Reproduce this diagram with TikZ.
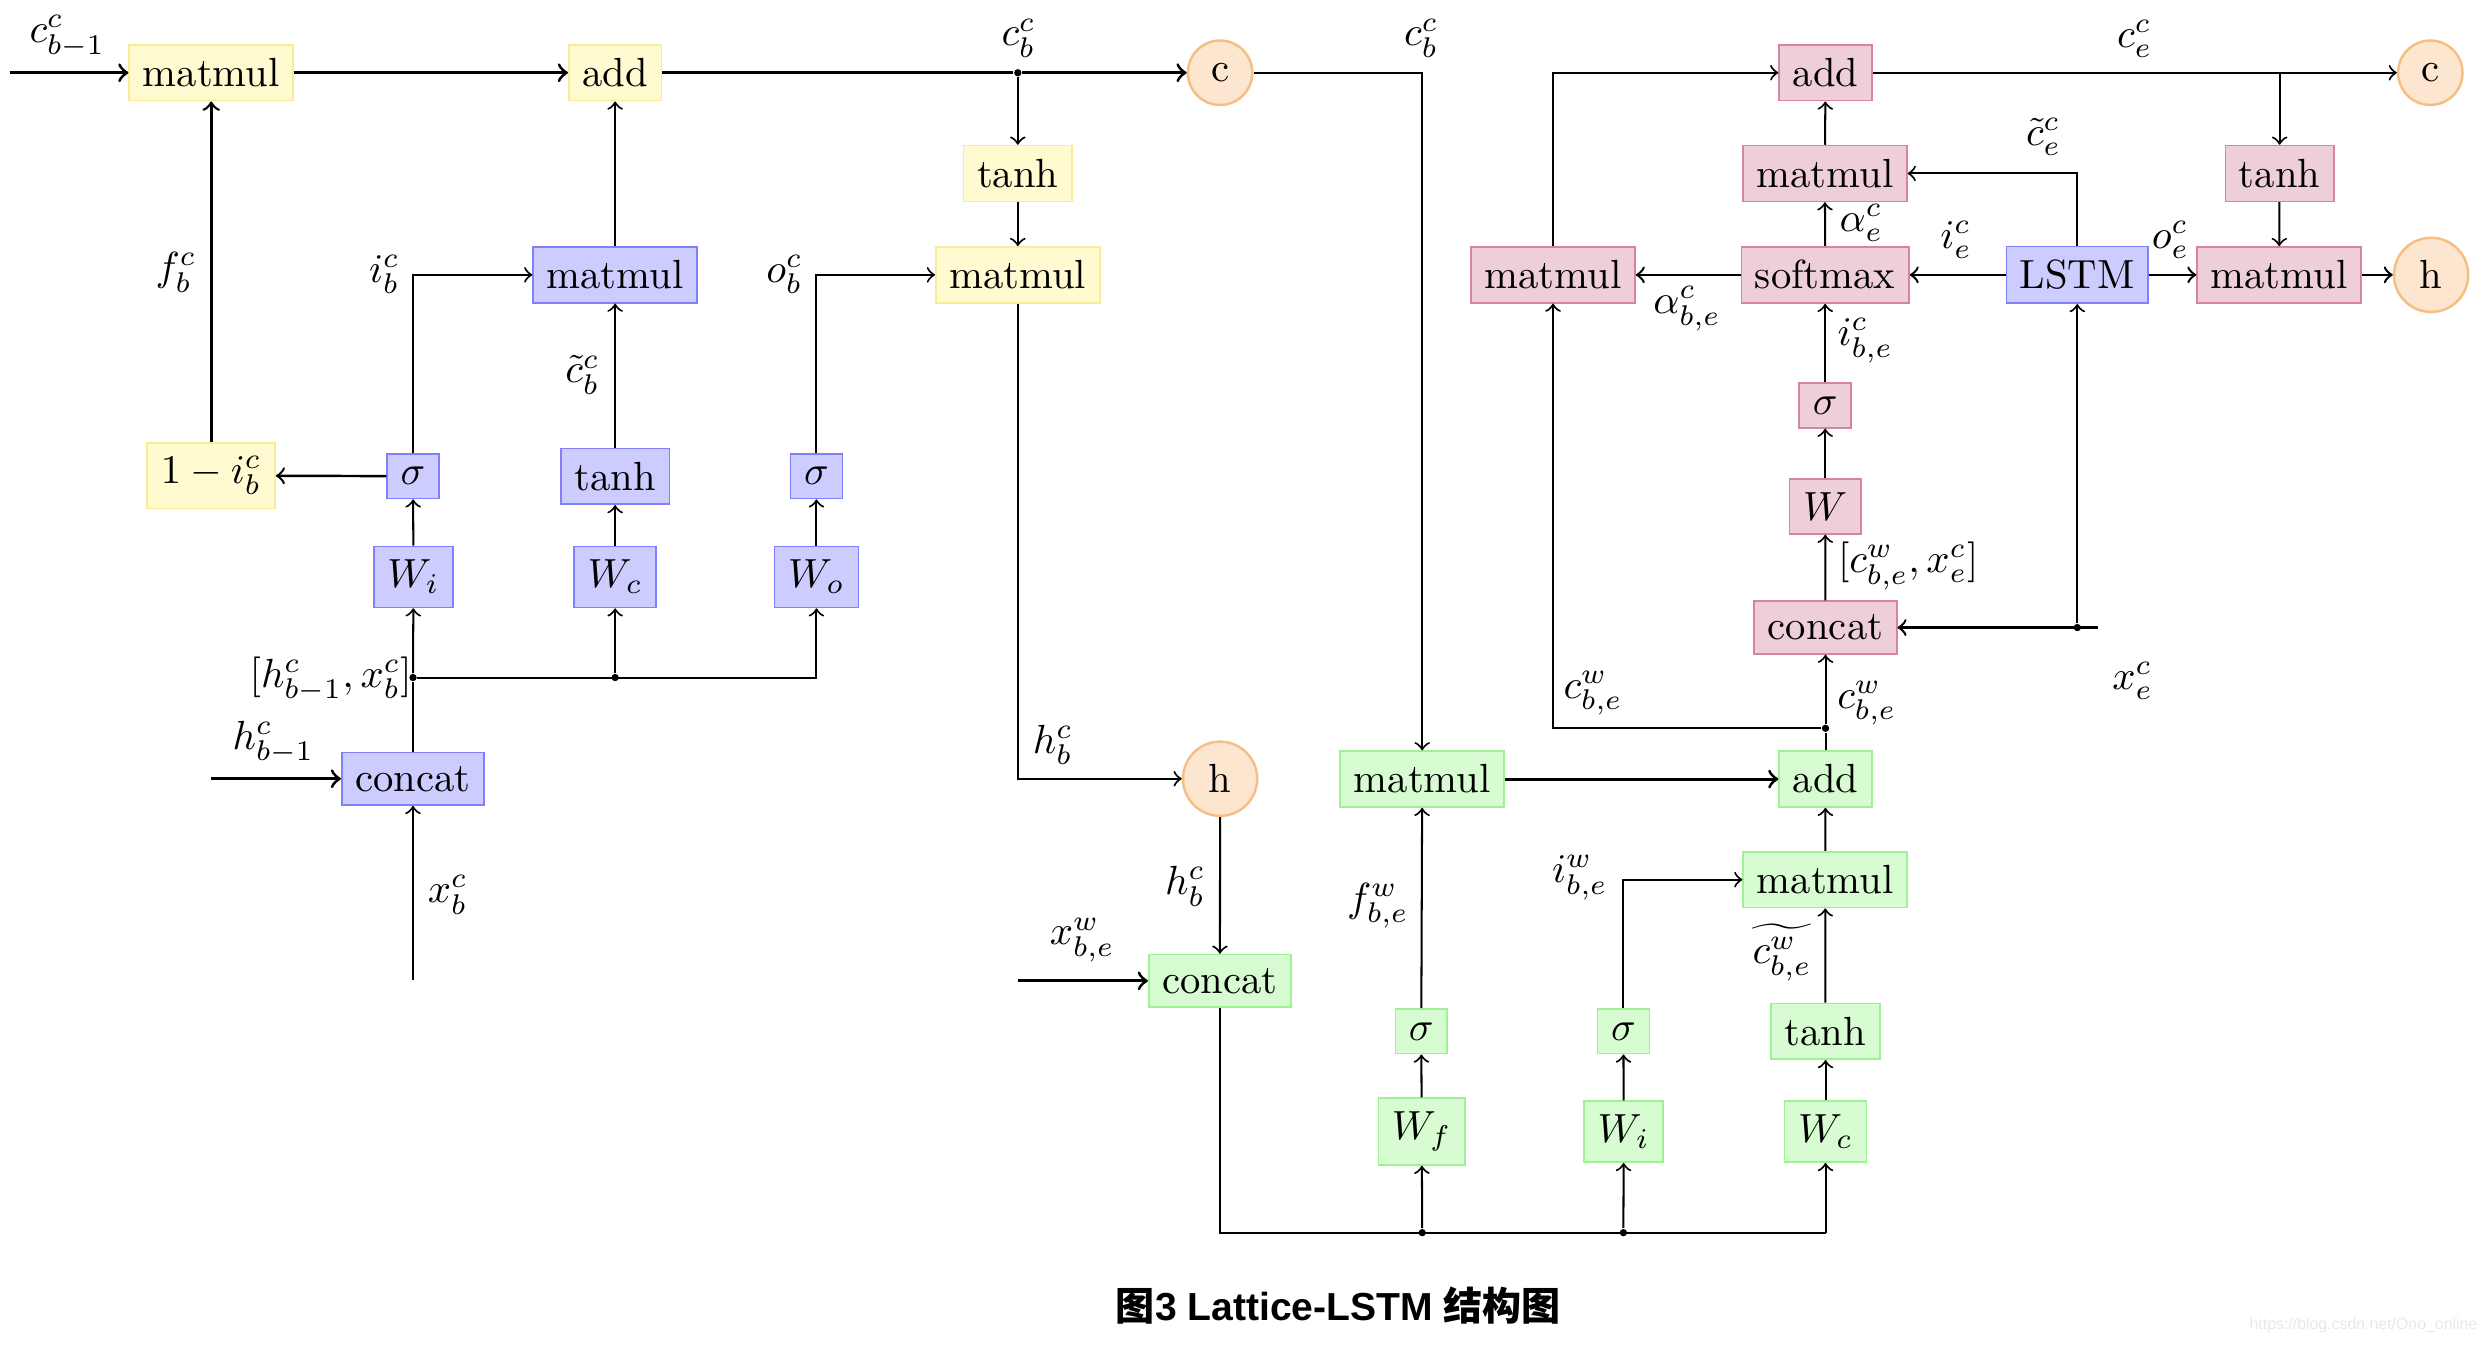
\documentclass[tikz,border=0pt]{standalone}
\usepackage{fontspec}
\newfontfamily\cjkf{Noto Sans CJK SC}
\newfontfamily\libsans{Liberation Sans}
\definecolor{yfill}{RGB}{255,250,208}
\definecolor{ydraw}{RGB}{250,236,150}
\definecolor{bfill}{RGB}{204,204,255}
\definecolor{bdraw}{RGB}{128,128,255}
\definecolor{pfill}{RGB}{237,206,217}
\definecolor{pdraw}{RGB}{214,132,162}
\definecolor{gfill}{RGB}{216,252,210}
\definecolor{gdraw}{RGB}{160,240,150}
\definecolor{ofill}{RGB}{252,230,208}
\definecolor{odraw}{RGB}{245,190,130}
\begin{document}
\begin{tikzpicture}[x=0.391pt,y=-0.391pt,
  box/.style={rectangle,draw,inner sep=3.333pt,line width=0.4pt},
  ybox/.style={box,fill=yfill,draw=ydraw},
  bbox/.style={box,fill=bfill,draw=bdraw},
  pbox/.style={box,fill=pfill,draw=pdraw},
  gbox/.style={box,fill=gfill,draw=gdraw},
  circ/.style={circle,fill=ofill,draw=odraw,line width=0.6pt,inner sep=3.333pt},
  ln/.style={line width=0.5pt},
  arr/.style={ln,->},
  tarr/.style={line width=0.75pt,->},
  jdot/.style={circle,fill=black,inner sep=0pt,minimum size=1.8pt},
  lab/.style={inner sep=1pt}]
\useasboundingbox (0,0) rectangle (1562,844.6);

% ---------- left (character cell) ----------
\node[ybox] (mm1) at (132.7,45.7) {matmul};
\node[ybox] (add1) at (386.5,45.7) {add};
\node[circ] (c1) at (766.6,45.7) {c};
\node[ybox] (tanh1) at (639.5,109) {tanh};
\node[ybox] (mm3) at (639.5,172.7) {matmul};
\node[bbox] (mm2) at (386.5,172.7) {matmul};
\node[ybox] (onemi) at (132.7,298.8) {$1-i^c_b$};
\node[bbox] (s1) at (259.5,299.2) {$\sigma$};
\node[bbox] (tanh2) at (386.5,299.3) {tanh};
\node[bbox] (s2) at (513,299.2) {$\sigma$};
\node[bbox] (Wi) at (259.8,362.5) {$W_i$};
\node[bbox] (Wc) at (386.5,362.5) {$W_c$};
\node[bbox] (Wo) at (513,362.5) {$W_o$};
\node[bbox] (concat1) at (259.5,489.3) {concat};
\node[circ] (h1) at (766.6,489.3) {h};
\node[gbox] (concat2) at (766.5,616.3) {concat};

\coordinate (cin) at (6,45.7);
\node[jdot] (d1) at (639.5,45.7) {};
\node[jdot] (dj1) at (259.5,425.7) {};
\node[jdot] (dj2) at (386.5,425.7) {};
\coordinate (hbin) at (132.5,489.3);
\coordinate (xbin) at (259.5,616);
\coordinate (xwin) at (639.5,616.3);

\draw[tarr] (cin) -- (mm1);
\draw[tarr] (mm1) -- (add1);
\draw[tarr] (add1) -- (d1) -- (c1);
\draw[arr] (d1) -- (tanh1);
\draw[arr] (tanh1) -- (mm3);
\draw[arr] (mm3.south) |- (h1.west);
\draw[arr] (h1) -- (concat2);
\draw[tarr] (xwin) -- (concat2);
\draw[arr] (mm2) -- (add1);
\draw[line width=0.65pt,->] (onemi) -- (mm1);
\draw[line width=0.6pt,->] (s1) -- (onemi);
\draw[arr] (s1.north) |- (mm2.west);
\draw[arr] (tanh2) -- (mm2);
\draw[arr] (s2.north) |- (mm3.west);
\draw[arr] (Wi) -- (s1);
\draw[arr] (Wc) -- (tanh2);
\draw[arr] (Wo) -- (s2);
\draw[ln] (concat1) -- (dj1);
\draw[arr] (dj1) -- (Wi);
\draw[arr] (dj2) -- (Wc);
\draw[arr] (dj1) -| (Wo.south);
\draw[tarr] (hbin) -- (concat1);
\draw[arr] (xbin) -- (concat1);

\node[lab] (l1) at (42.3,22.9) {$c^c_{b-1}$};
\node[lab] (l2) at (640,24) {$c^c_b$};
\node[lab] (l3) at (110.6,171) {$f^c_b$};
\node[lab] (l4) at (241.6,172.4) {$i^c_b$};
\node[lab] (l5) at (366,235.7) {$\tilde{c}^c_b$};
\node[lab] (l6) at (493,172.4) {$o^c_b$};
\node[lab] (l7) at (207.8,427) {$[h^c_{b-1},x^c_b]$};
\node[lab] (l8) at (171.8,466.5) {$h^c_{b-1}$};
\node[lab] (l9) at (281.4,562.3) {$x^c_b$};
\node[lab] (l10) at (661.5,468) {$h^c_b$};
\node[lab] (l11) at (744.6,556.9) {$h^c_b$};
\node[lab] (l12) at (680,590.5) {$x^w_{b,e}$};

% ---------- green (word cell) ----------
\node[gbox] (mmg1) at (893.6,489.5) {matmul};
\node[gbox] (addg) at (1147,489.5) {add};
\node[gbox] (mmg2) at (1146.8,552.7) {matmul};
\node[gbox] (sf) at (893,648) {$\sigma$};
\node[gbox] (si) at (1020,648) {$\sigma$};
\node[gbox] (tanhg) at (1147,648) {tanh};
\node[gbox] (Wf) at (893.3,711) {$W_f$};
\node[gbox] (Wi2) at (1020.2,711) {$W_i$};
\node[gbox] (Wc2) at (1147,711) {$W_c$};
\node[jdot] (df) at (893.6,774.5) {};
\node[jdot] (di) at (1020,774.5) {};
\coordinate (bc) at (1147,774.5);

\draw[arr] (c1.east) -| (mmg1.north);
\draw[ln] (concat2.south) |- (bc);
\draw[arr] (bc) -- (Wc2);
\draw[arr] (df) -- (Wf);
\draw[arr] (di) -- (Wi2);
\draw[arr] (Wf) -- (sf);
\draw[arr] (Wi2) -- (si);
\draw[arr] (Wc2) -- (tanhg);
\draw[arr] (sf) -- (mmg1);
\draw[arr] (si.north) |- (mmg2.west);
\draw[arr] (tanhg) -- (mmg2);
\draw[arr] (mmg2) -- (addg);
\draw[tarr] (mmg1) -- (addg);

\node[lab] (l13) at (893,24) {$c^c_b$};
\node[lab] (l14) at (865.7,569) {$f^w_{b,e}$};
\node[lab] (l15) at (992.7,551.5) {$i^w_{b,e}$};
\node[lab] (l16) at (1119.7,598.6) {$\widetilde{c^w_{b,e}}$};

% ---------- pink (merge) ----------
\node[pbox] (add3) at (1147,45.7) {add};
\node[pbox] (mmt) at (1146.6,109) {matmul};
\node[pbox] (softmax) at (1146.8,172.7) {softmax};
\node[pbox] (mml) at (975.8,172.7) {matmul};
\node[bbox] (lstm) at (1305.2,172.7) {LSTM};
\node[pbox] (mmr) at (1432,172.7) {matmul};
\node[pbox] (tanhp) at (1432.3,109) {tanh};
\node[circ] (c2) at (1527,45.7) {c};
\node[circ] (h2) at (1527.5,172.7) {h};
\node[pbox] (sp) at (1146.8,254.8) {$\sigma$};
\node[pbox] (Wp) at (1146.8,318.2) {$W$};
\node[pbox] (concatp) at (1147,394.3) {concat};
\node[jdot] (dx) at (1305.2,394.3) {};
\coordinate (xe) at (1318,394.3);
\node[jdot] (dw) at (1147,457.6) {};
\coordinate (br) at (1432.3,45.7);

\draw[ln] (addg) -- (dw);
\draw[arr] (dw) -- (concatp);
\draw[arr] (dw) -| (mml.south);
\draw[arr] (concatp) -- (Wp);
\draw[arr] (Wp) -- (sp);
\draw[arr] (sp) -- (softmax);
\draw[arr] (softmax) -- (mmt);
\draw[arr] (mmt) -- (add3);
\draw[line width=0.6pt,->] (softmax) -- (mml);
\draw[arr] (mml.north) |- (add3.west);
\draw[arr] (add3) -- (br) -- (c2);
\draw[arr] (br) -- (tanhp);
\draw[arr] (tanhp) -- (mmr);
\draw[line width=0.6pt,->] (mmr) -- (h2);
\draw[line width=0.6pt,->] (lstm) -- (mmr);
\draw[line width=0.6pt,->] (lstm) -- (softmax);
\draw[arr] (lstm.north) |- (mmt.east);
\draw[line width=0.6pt,->] (xe) -- (concatp);
\draw[arr] (dx) -- (lstm);

\node[lab] (l17) at (1341.3,24.2) {$c^c_e$};
\node[lab] (l18) at (1284,86) {$\tilde{c}^c_e$};
\node[lab] (l19) at (1169.5,140) {$\alpha^c_e$};
\node[lab] (l20) at (1229,150.8) {$i^c_e$};
\node[lab] (l21) at (1363.8,150.8) {$o^c_e$};
\node[lab] (l22) at (1060,194) {$\alpha^c_{b,e}$};
\node[lab] (l23) at (1172,214) {$i^c_{b,e}$};
\node[lab] (l24) at (1199,355.5) {$[c^w_{b,e},x^c_e]$};
\node[lab] (l25) at (1340,428) {$x^c_e$};
\node[lab] (l26) at (1001,435.6) {$c^w_{b,e}$};
\node[lab] (l27) at (1173,442) {$c^w_{b,e}$};

% ---------- caption & watermark ----------
\node[inner sep=0pt] (cap) at (841,820) {\fontsize{9.6}{11}\selectfont{\cjkf\bfseries 图}{\libsans\bfseries 3 Lattice-LSTM }{\cjkf\bfseries 结构图}};
\node[inner sep=0pt,text=black!9] (wm) at (1485,832.5) {\libsans\fontsize{3.9}{4.5}\selectfont https://blog.csdn.net/Ono\_online};
\end{tikzpicture}
\end{document}
